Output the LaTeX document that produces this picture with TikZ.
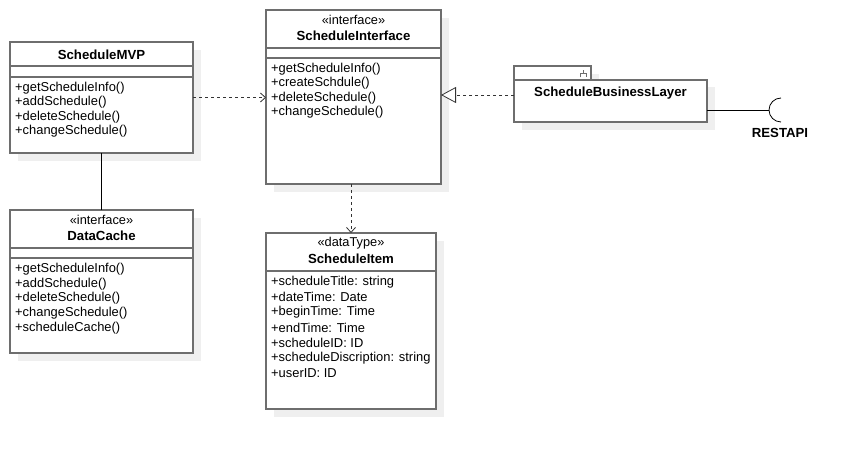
\documentclass[tikz,border=0pt]{standalone}
\usepackage{fontspec}
\setmainfont{Liberation Sans}
\usetikzlibrary{arrows.meta,calc}
\definecolor{boxc}{HTML}{6E6E6E}
\definecolor{shc}{HTML}{EFEFEF}
\tikzset{
  umlbox/.style={draw=boxc, line width=1.4pt, fill=white, inner sep=0pt, outer sep=0pt},
  shadowbox/.style={fill=shc, draw=none},
  sep/.style={draw=boxc, line width=1.2pt},
  txt/.style={anchor=west, inner sep=0pt, font=\fontsize{12.9}{14}\selectfont},
  ttl/.style={anchor=center, inner sep=0pt, font=\fontsize{13.2}{14}\selectfont\bfseries},
  stereo/.style={anchor=center, inner sep=0pt, font=\fontsize{12.8}{14}\selectfont},
  dep/.style={draw=black!80, line width=0.8pt, dash pattern=on 3pt off 3pt},
  openarrow/.style={-{Straight Barb[length=5pt,width=9pt,line width=0.8pt]}},
  realize/.style={-{Triangle[open,length=15pt,width=16pt,line width=0.8pt,fill=white]}},
}
\begin{document}
\begin{tikzpicture}[x=1pt,y=-1pt]
\useasboundingbox (0,0) rectangle (856,449);
% shadows
\fill[shadowbox] (18,50) rectangle (201,161);
\fill[shadowbox] (274,18) rectangle (449,192);
\fill[shadowbox] (18,218) rectangle (201,361);
\fill[shadowbox] (274,241) rectangle (444,417);
\fill[shadowbox] (522,74) rectangle (599,87);
\fill[shadowbox] (522,87) rectangle (715,130);

% ScheduleMVP
\node[umlbox, minimum width=183pt, minimum height=111pt] (mvp) at (101.5,97.5) {};
\node[ttl] (mvpt) at (101.5,55) {ScheduleMVP};
\draw[sep] (mvp.west |- 0,66) -- (mvp.east |- 0,66);
\draw[sep] (mvp.west |- 0,77) -- (mvp.east |- 0,77);
\node[txt] (m1) at (15,88) {+getScheduleInfo()};
\node[txt] (m2) at (15,102.5) {+addSchedule()};
\node[txt] (m3) at (15,117) {+deleteSchedule()};
\node[txt] (m4) at (15,131.5) {+changeSchedule()};

% ScheduleInterface
\node[umlbox, minimum width=175pt, minimum height=174pt] (si) at (353.5,97) {};
\node[stereo] (sis) at (353.5,20) {«interface»};
\node[ttl] (sit) at (353.5,36) {ScheduleInterface};
\draw[sep] (si.west |- 0,48) -- (si.east |- 0,48);
\draw[sep] (si.west |- 0,58) -- (si.east |- 0,58);
\node[txt] (s1) at (271,69) {+getScheduleInfo()};
\node[txt] (s2) at (271,83.5) {+createSchdule()};
\node[txt] (s3) at (271,98) {+deleteSchedule()};
\node[txt] (s4) at (271,112.5) {+changeSchedule()};

% DataCache
\node[umlbox, minimum width=183pt, minimum height=143pt] (dc) at (101.5,281.5) {};
\node[stereo] (dcs) at (101.5,220) {«interface»};
\node[ttl] (dct) at (101.5,236) {DataCache};
\draw[sep] (dc.west |- 0,248) -- (dc.east |- 0,248);
\draw[sep] (dc.west |- 0,258) -- (dc.east |- 0,258);
\node[txt] (d1) at (15,269) {+getScheduleInfo()};
\node[txt] (d2) at (15,283.8) {+addSchedule()};
\node[txt] (d3) at (15,298.6) {+deleteSchedule()};
\node[txt] (d4) at (15,313.4) {+changeSchedule()};
\node[txt] (d5) at (15,328.2) {+scheduleCache()};

% ScheduleItem
\node[umlbox, minimum width=170pt, minimum height=176pt] (it) at (351,321) {};
\node[stereo] (its) at (351,243) {«dataType»};
\node[ttl] (itt) at (351,259) {ScheduleItem};
\draw[sep] (it.west |- 0,271) -- (it.east |- 0,271);
\node[txt] (i1) at (271,282) {+scheduleTitle: string};
\node[txt] (i2) at (271,297.2) {+dateTime: Date};
\node[txt] (i3) at (271,312.4) {+beginTime: Time};
\node[txt] (i4) at (271,327.6) {+endTime: Time};
\node[txt] (i5) at (271,342.8) {+scheduleID: ID};
\node[txt] (i6) at (271,358) {+scheduleDiscription: string};
\node[txt] (i7) at (271,373.2) {+userID: ID};

% ScheduleBusinessLayer (component)
\node[umlbox, line width=1.2pt, minimum width=77pt, minimum height=14pt] (tab) at (552.5,73) {};
\node[umlbox, minimum width=193pt, minimum height=42pt] (bl) at (610.5,101) {};
\node[ttl] (blt) at (610.5,93.5) {ScheduleBusinessLayer};
\draw[boxc, line width=0.9pt] ($(tab.east)+(-11,4.5)$) -- ($(tab.east)+(-11,0.5)$) -- ($(tab.east)+(-5,0.5)$) -- ($(tab.east)+(-5,4.5)$);
\draw[boxc, line width=0.9pt] ($(tab.east)+(-8,0.5)$) -- ($(tab.east)+(-8,-3)$);

% required interface RESTAPI
\coordinate (sock) at (769,110);
\draw[black, line width=0.8pt] (bl.east |- sock) -- (sock);
\draw[black, line width=0.8pt] ($(sock)+(12,-12)$) arc[start angle=270, end angle=90, radius=12];
\node[ttl] (rest) at (780,133) {RESTAPI};

% connectors
\draw[dep, openarrow] (mvp.east) -- (si.west |- mvp.east);
\draw[dep, realize] (bl.west |- 0,95) -- (si.east |- 0,95);
\draw[dep, openarrow] (si.south -| it.north) -- (it.north);
\draw[black, line width=0.8pt] (mvp.south) -- (dc.north);
\end{tikzpicture}
\end{document}
